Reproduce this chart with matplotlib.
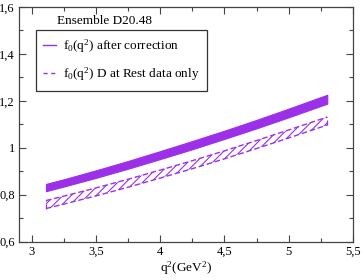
import numpy as np
import matplotlib
matplotlib.use('Agg')
import matplotlib.pyplot as plt
from matplotlib.ticker import MultipleLocator, FuncFormatter

plt.rcParams['font.family'] = ['Liberation Serif', 'DejaVu Serif']
plt.rcParams['mathtext.fontset'] = 'custom'
plt.rcParams['mathtext.rm'] = 'Liberation Serif'
plt.rcParams['mathtext.default'] = 'regular'
plt.rcParams['hatch.linewidth'] = 0.8

##################################################################
# band data

q2 = [3.11, 3.25, 3.5, 3.75, 4.0, 4.25, 4.5, 4.75, 5.0, 5.3]

# f0 after correction
corr_lo = [0.815, 0.835, 0.872, 0.911, 0.952, 0.994, 1.038, 1.083, 1.130, 1.188]
corr_hi = [0.846, 0.866, 0.904, 0.944, 0.986, 1.029, 1.073, 1.119, 1.167, 1.226]

# f0, D at rest data only
rest_lo = [0.741, 0.760, 0.795, 0.832, 0.871, 0.911, 0.953, 0.997, 1.042, 1.097]
rest_hi = [0.775, 0.794, 0.829, 0.866, 0.905, 0.945, 0.987, 1.031, 1.076, 1.131]

purple = '#9b30e8'

##################################################################

def comma_fmt(v, pos):
    s = '{:g}'.format(round(v, 2))
    return s.replace('.', ',')


fig = plt.figure(figsize=(3.63, 2.80), dpi=100)
ax = fig.add_axes([0.0523, 0.137, 0.920, 0.838])

ax.fill_between(q2, corr_lo, corr_hi, facecolor=purple, edgecolor=purple, lw=0.8)
ax.fill_between(q2, rest_lo, rest_hi, facecolor='none', edgecolor=purple,
                hatch='////', lw=0.0)
ax.plot(q2, rest_lo, color=purple, ls=(0, (4, 2)), lw=1.0)
ax.plot(q2, rest_hi, color=purple, ls=(0, (4, 2)), lw=1.0)
ax.plot([q2[0], q2[0]], [rest_lo[0], rest_hi[0]], color=purple, lw=0.9, ls=(0, (4, 2)))
ax.plot([q2[-1], q2[-1]], [rest_lo[-1], rest_hi[-1]], color=purple, lw=0.9, ls=(0, (4, 2)))

# legend handles
h1, = ax.plot([], [], color=purple, lw=1.0, label='f$_0$(q$^2$) after correction')
h2, = ax.plot([], [], color=purple, lw=1.0, ls=(0, (3, 2.5)),
              label='f$_0$(q$^2$) D at Rest data only')
leg = ax.legend(handles=[h1, h2], loc='upper left', bbox_to_anchor=(0.051, 0.90),
                frameon=True, fancybox=False, edgecolor='black', fontsize=9.5,
                handlelength=0.95, handletextpad=0.55, borderpad=0.55,
                labelspacing=0.8, borderaxespad=0.0)
leg.get_frame().set_linewidth(0.9)

ax.text(0.257, 0.94, 'Ensemble D20.48', transform=ax.transAxes,
        ha='center', va='center', fontsize=9.5)

ax.set_xlim(2.9, 5.5)
ax.set_ylim(0.6, 1.6)
ax.xaxis.set_major_locator(MultipleLocator(0.5))
ax.xaxis.set_minor_locator(MultipleLocator(0.25))
ax.yaxis.set_major_locator(MultipleLocator(0.2))
ax.yaxis.set_minor_locator(MultipleLocator(0.1))
ax.xaxis.set_major_formatter(FuncFormatter(comma_fmt))
ax.yaxis.set_major_formatter(FuncFormatter(comma_fmt))
ax.tick_params(which='both', direction='in', top=True, right=True,
               labelsize=9, color='#444444', width=0.8)
ax.tick_params(which='major', length=5, pad=3)
ax.tick_params(which='minor', length=3)
for sp in ax.spines.values():
    sp.set_color('#444444')
    sp.set_linewidth(0.9)

ax.set_xlabel('q$^2$(GeV$^2$)', fontsize=9.5, labelpad=1)

plt.savefig('out.png', dpi=100, facecolor='white')
